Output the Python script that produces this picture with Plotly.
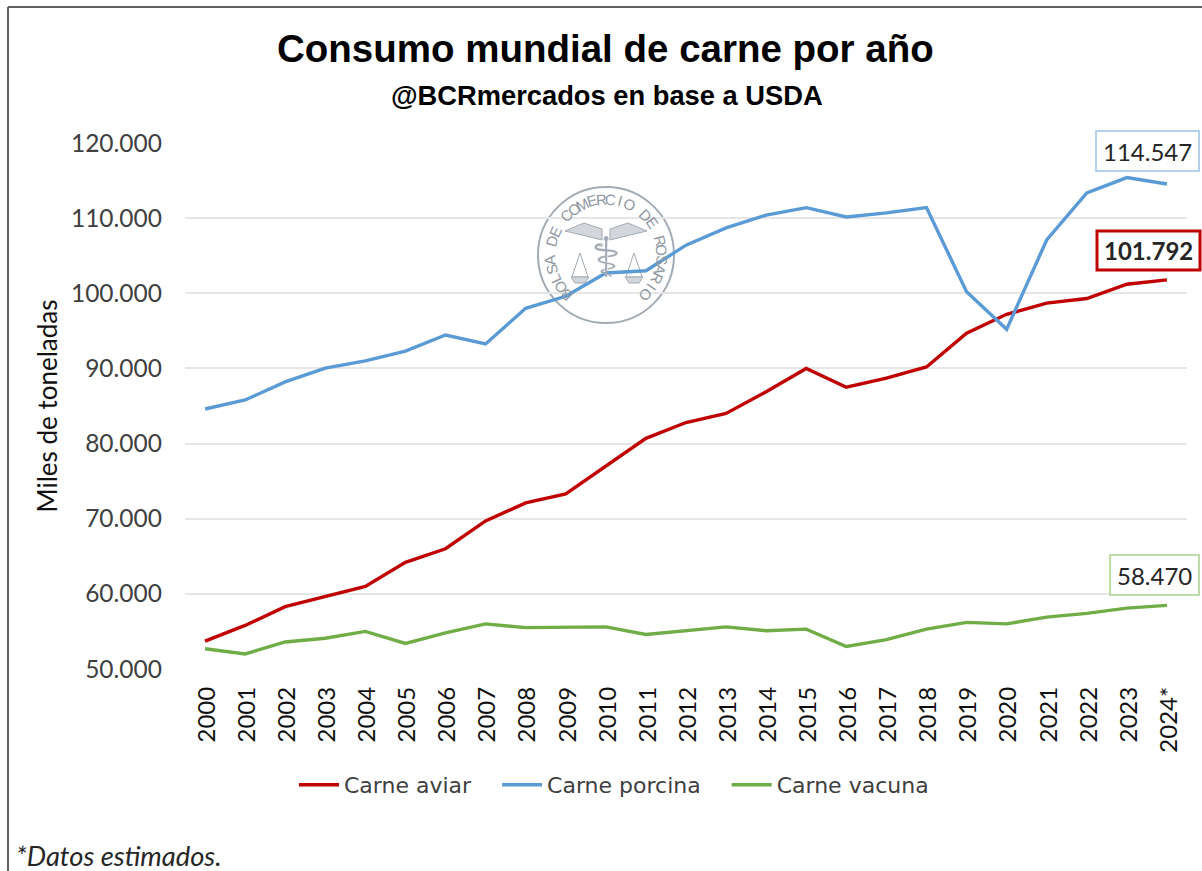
import math
import plotly.graph_objects as go

years = [str(y) for y in range(2000, 2024)] + ["2024*"]
aviar = [53700, 55800, 58300, 59700, 61000, 64200, 66000, 69700, 72100, 73300, 77000, 80700, 82800, 84000, 86900, 90000, 87500, 88700, 90200, 94700, 97200, 98700, 99300, 101200, 101792]
porcina = [84600, 85800, 88200, 90050, 91000, 92300, 94450, 93250, 98000, 99600, 102700, 103000, 106400, 108700, 110400, 111400, 110150, 110700, 111400, 100200, 95200, 107100, 113350, 115400, 114547]
vacuna = [52700, 52000, 53600, 54100, 55000, 53400, 54800, 56000, 55500, 55500, 55600, 54600, 55100, 55600, 55100, 55300, 53000, 53900, 55300, 56200, 56000, 56900, 57400, 58100, 58470]
y_ticks = [50000, 60000, 70000, 80000, 90000, 100000, 110000, 120000]
y_labels = ["50.000", "60.000", "70.000", "80.000", "90.000", "100.000", "110.000", "120.000"]

RED, BLUE, GREEN = "#c00000", "#5b9bd5", "#70ad47"
FONT = "Lato"
TXT = "#404040"
PAD = "\u00a0\u00a0\u00a0"

W, H = 1202, 871
L, R, T, B = 185, 1187, 143, 669

def fx(x):
    return (x - L) / (R - L)
def fy(y):
    return (B - y) / (B - T)

fig = go.Figure()
for name, vals, col in [("Carne aviar" + PAD, aviar, RED), ("Carne porcina" + PAD, porcina, BLUE), ("Carne vacuna", vacuna, GREEN)]:
    fig.add_trace(go.Scatter(x=years, y=vals, name=name, mode="lines",
                             line=dict(color=col, width=3.4), hoverinfo="skip"))

fig.update_layout(
    width=W, height=H, autosize=False, template=None,
    paper_bgcolor="white", plot_bgcolor="rgba(0,0,0,0)",
    margin=dict(l=L, r=W - R, t=T, b=H - B, pad=0),
    showlegend=True,
    legend=dict(orientation="h", x=fx(294), xanchor="left", y=fy(785), yanchor="middle",
                font=dict(family="DejaVu Sans", size=22, color=TXT),
                itemwidth=40, tracegroupgap=0, bgcolor="rgba(0,0,0,0)"),
    xaxis=dict(type="category", categoryorder="array", categoryarray=years, range=[-0.5, 24.5],
               showgrid=False, zeroline=False, showline=False, ticks="", tickangle=-90,
               ticklabelstandoff=12, ticklabelshift=2,
               tickfont=dict(family=FONT, size=24, color="#111111")),
    yaxis=dict(range=[50000, 120000], tickvals=y_ticks, ticktext=y_labels, showgrid=True,
               gridcolor="#e6e6e6", gridwidth=2, zeroline=False, showline=False, ticks="",
               ticklabelstandoff=22,
               tickfont=dict(family=FONT, size=24.5, color=TXT),
               title=dict(text="Miles de toneladas", font=dict(family=FONT, size=26, color="#111111"), standoff=5)),
)

anns = []
def text(x, y, s, size, family=FONT, color="#000000", **kw):
    anns.append(dict(x=fx(x), y=fy(y), xref="paper", yref="paper", text=s, showarrow=False,
                     font=dict(family=family, size=size, color=color), xanchor=kw.pop("xanchor", "center"),
                     yanchor="middle", **kw))

HEAD = "Liberation Sans"
text(605, 48, "<b>Consumo mundial de carne por año</b>", 38.5, HEAD)
text(607, 96, "<b>@BCRmercados en base a USDA</b>", 27.3, HEAD)
text(14, 855, "<i>*Datos estimados.</i>", 27.3, FONT, "#262626", xanchor="left")

# value boxes
for x0, y0, x1, y1, lab, col, w, bold, fs in [
    (1096, 131, 1199, 171, "114.547", "#9dc3e6", 1.5, False, 24),
    (1097, 231, 1200, 270, "101.792", RED, 3, True, 24),
    (1110, 555, 1199, 595, "58.470", "#a9d18e", 1.5, False, 24)]:
    fig.add_shape(type="rect", xref="paper", yref="paper", x0=fx(x0), x1=fx(x1), y0=fy(y0), y1=fy(y1),
                  line=dict(color=col, width=w), fillcolor="white", layer="above")
    text((x0 + x1) / 2, (y0 + y1) / 2, f"<b>{lab}</b>" if bold else lab, fs, FONT, "#262626")

# frame lines (left and top)
fig.add_shape(type="line", xref="paper", yref="paper", x0=fx(8), x1=fx(8), y0=fy(7), y1=fy(871),
              line=dict(color="#5f5f5f", width=2))
fig.add_shape(type="line", xref="paper", yref="paper", x0=fx(8), x1=fx(1202), y0=fy(7), y1=fy(7),
              line=dict(color="#5f5f5f", width=2))

# seal watermark
cx, cy = 606, 255
SEAL = "#a3abb5"
def circ(r, width):
    fig.add_shape(type="circle", xref="paper", yref="paper", x0=fx(cx - r), x1=fx(cx + r), y0=fy(cy + r), y1=fy(cy - r),
                  line=dict(color=SEAL, width=width), layer="below")
def seal_path(pts, fill="rgba(0,0,0,0)", close=True):
    d = "M " + " L ".join(f"{fx(a)} {fy(b)}" for a, b in pts) + (" Z" if close else "")
    fig.add_shape(type="path", xref="paper", yref="paper", path=d, fillcolor=fill,
                  line=dict(color=SEAL, width=1), layer="below")
circ(68, 2)
seal_text = "BOLSA DE COMERCIO DE ROSARIO"
a0, a1 = -135, 135
for i, ch in enumerate(seal_text):
    a = a0 + (a1 - a0) * i / (len(seal_text) - 1)
    ra = math.radians(a)
    text(cx + 56 * math.sin(ra), cy - 56 * math.cos(ra), ch, 15, "Liberation Sans", "#8f97a1", textangle=a)
# wings
for sign in (-1, 1):
    seal_path([(cx + sign * 4, cy - 26), (cx + sign * 22, cy - 32), (cx + sign * 41, cy - 24), (cx + sign * 20, cy - 19), (cx + sign * 4, cy - 15)], "#d3d7dc")
# scales, drawn as small outlines
for sx in (cx - 26, cx + 28):
    seal_path([(sx, cy - 2), (sx - 8, cy + 22), (sx + 8, cy + 22)])
    seal_path([(sx - 9, cy + 22), (sx + 9, cy + 22), (sx + 5, cy + 28), (sx - 5, cy + 28)], "#d3d7dc")
text(cx, cy + 2, "⚕", 56, "DejaVu Sans", "#a5adb6")

fig.update_layout(annotations=anns)
fig.write_html("out.html", config=dict(displayModeBar=False),
               post_script="document.body.style.margin='0';document.body.style.overflow='hidden';")
